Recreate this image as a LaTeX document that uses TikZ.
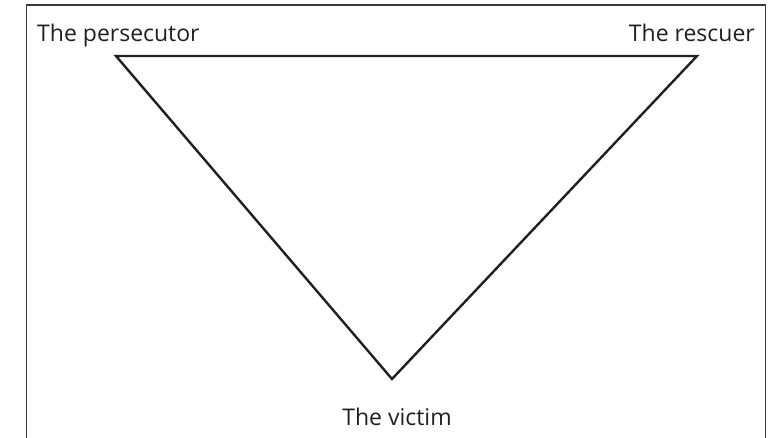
\documentclass[tikz,border=0pt]{standalone}
\usepackage{fontspec}
\setmainfont{Open Sans}
\usepackage{xcolor}
\usetikzlibrary{positioning}
\definecolor{tinta}{HTML}{231F20}
\definecolor{marco}{HTML}{3A3A3A}

\begin{document}
\begin{tikzpicture}[
  x=1pt, y=-1pt,
  lado/.style={draw=tinta, line width=2.4pt, line join=miter},
  rol/.style={font=\fontsize{23}{26}\selectfont, text=tinta, inner sep=0pt},
  borde/.style={draw=marco, line width=1.4pt}
]
\useasboundingbox (0,0) rectangle (769,437);
\draw[borde] (26.5,445) |- (765.5,5) -- (765.5,445);

\coordinate (persecutor) at (116,56);
\coordinate (rescuer) at (697,56);
\coordinate (victim) at (392,379);

\draw[lado] (persecutor) -- (rescuer) -- (victim) -- cycle;

\node[rol, anchor=base west] (lpers) at (37,41) {The persecutor};
\node[rol, anchor=base east] (lresc) at (755,41) {The rescuer};
\node[rol, anchor=base] (lvict) at (397,425) {The victim};
\end{tikzpicture}
\end{document}
